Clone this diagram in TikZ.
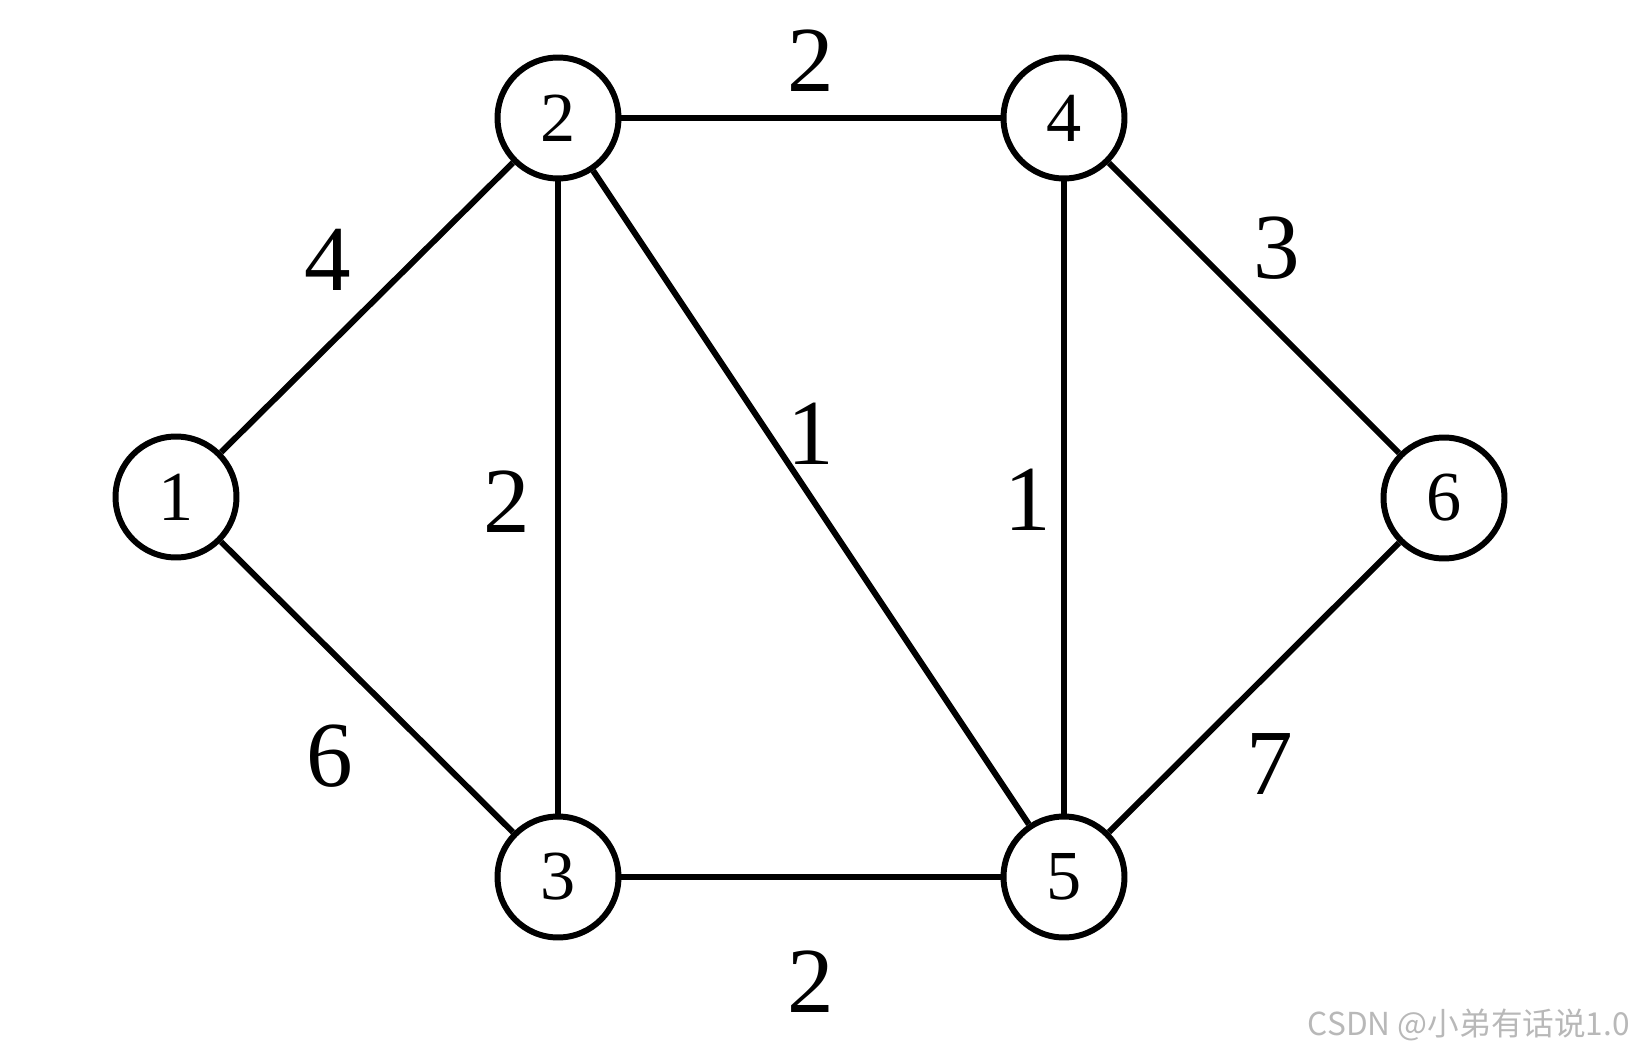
\documentclass[tikz,border=0pt]{standalone}
\usepackage{fontspec}
\setmainfont{Liberation Serif}
\newfontfamily\cjk{Noto Sans CJK SC}
\usepackage{tikz}
\usetikzlibrary{positioning}

\begin{document}
\begin{tikzpicture}[
        x=0.02cm, y=-0.02cm,
        vertex/.style={circle, draw, line width=3.4pt, minimum size=2.42cm, inner sep=0pt, fill=white, font=\fontsize{40}{40}\selectfont},
        edge/.style={line width=3.4pt},
        weight/.style={font=\fontsize{53}{53}\selectfont}
    ]
        % Rahmen
        \useasboundingbox (0,0) rectangle (1641,1051);
        % Knoten
        \foreach \n/\x/\y in {1/176/497, 2/558/118, 3/558/877, 4/1064/118, 5/1064/877, 6/1444/498} {
            \node[vertex] (v\n) at (\x,\y) {\n};
        }
        % Kanten
        \foreach \a/\b in {1/2, 1/3, 2/3, 2/4, 2/5, 3/5, 4/5, 4/6, 5/6} {
            \draw[edge] (v\a) -- (v\b);
        }
        % Gewichte
        \foreach \a/\b/\w/\x/\y in {1/2/4/328/260, 1/3/6/330/756, 2/4/2/811/61, 2/3/2/507/502,
                2/5/1/811/434, 4/5/1/1028/500, 4/6/3/1277/248, 5/6/7/1270/764, 3/5/2/811/982} {
            \node[weight] (w\a\b) at (\x,\y) {\w};
        }
        % Wasserzeichen
        \node[anchor=base east, text=black!28, font=\cjk\fontsize{18}{18}\selectfont] (mark) at (1636,1035) {CSDN @小弟有话说1.0};
    \end{tikzpicture}
\end{document}
